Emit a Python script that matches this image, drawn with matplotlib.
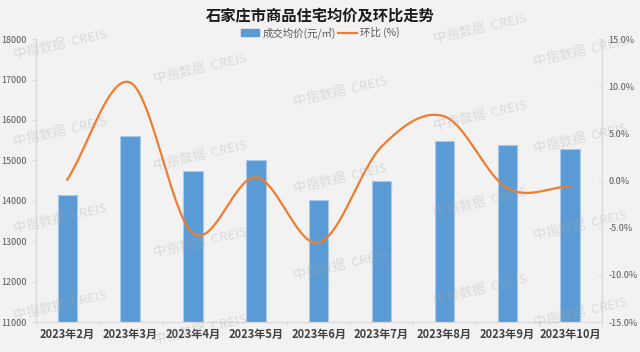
import numpy as np
import matplotlib.pyplot as plt
from matplotlib.patches import Patch
from matplotlib.lines import Line2D
from matplotlib.ticker import FuncFormatter

plt.rcParams['font.family'] = ['Noto Sans CJK SC', 'DejaVu Sans']

months = ['2023年2月', '2023年3月', '2023年4月', '2023年5月', '2023年6月',
          '2023年7月', '2023年8月', '2023年9月', '2023年10月']
price = [14150, 15600, 14740, 15010, 14015, 14500, 15480, 15385, 15285]
mom = [0.1, 10.4, -5.6, 0.35, -6.6, 3.6, 6.8, -0.8, -0.6]

bg = '#f2f2f2'
fig = plt.figure(figsize=(6.4, 3.52), dpi=100, facecolor=bg)
ax = fig.add_axes([0.056, 0.085, 0.884, 0.804])
ax.set_facecolor(bg)
ax2 = ax.twinx()

x = np.arange(len(months))
ax.bar(x, price, width=0.31, color='#5b9bd5', edgecolor='#a9cbeb', linewidth=0.8, zorder=2)
ax.set_ylim(11000, 18000)
ax.set_xlim(-0.5, len(months) - 0.5)
ax.set_yticks(range(11000, 18001, 1000))
ax.set_xticks(x)
ax.set_xticklabels(months, fontsize=8, fontweight='bold', color='#404040')
ax.set_xticks(np.arange(-0.5, len(months), 1), minor=True)

# smoothed line (catmull-rom through the data points)
p = np.array(mom, dtype=float)
pts = np.concatenate([[2 * p[0] - p[1]], p, [2 * p[-1] - p[-2]]])
xs, ys = [], []
for i in range(len(p) - 1):
    t = np.linspace(0, 1, 30)
    p0, p1, p2, p3 = pts[i], pts[i + 1], pts[i + 2], pts[i + 3]
    yy = 0.5 * (2 * p1 + (-p0 + p2) * t + (2 * p0 - 5 * p1 + 4 * p2 - p3) * t ** 2
                + (-p0 + 3 * p1 - 3 * p2 + p3) * t ** 3)
    xs.extend(i + t)
    ys.extend(yy)
ax2.plot(xs, ys, color='#ed7d31', lw=1.6, zorder=3)
ax2.set_ylim(-15, 15)
ax2.set_yticks(range(-15, 16, 5))
ax2.yaxis.set_major_formatter(FuncFormatter(lambda v, _: f'{v:.1f}%'))

for a in (ax, ax2):
    for s in a.spines.values():
        s.set_color('#d9d9d9')
    a.spines['top'].set_visible(False)
    a.tick_params(axis='y', labelsize=6.5, labelcolor='#595959', color='#d9d9d9', length=3)
ax.tick_params(axis='x', which='major', length=0, pad=4)
ax.tick_params(axis='x', which='minor', length=3, color='#d9d9d9')
ax2.tick_params(axis='y', direction='in', pad=5)

fig.text(0.5, 0.957, '石家庄市商品住宅均价及环比走势', ha='center', va='center',
         fontsize=11, fontweight='bold', color='#1a1a1a')
handles = [Patch(color='#5b9bd5'), Line2D([0], [0], color='#ed7d31', lw=1.6)]
fig.legend(handles, ['成交均价(元/㎡)', '环比 (%)'], loc='center', bbox_to_anchor=(0.5, 0.906),
           ncol=2, frameon=False, fontsize=7.5, labelcolor='#595959', handlelength=1.8,
           handleheight=0.6, handletextpad=0.3, columnspacing=0.2)

# watermark
for i in range(5):
    for j in range(-1, 5):
        cx = min(60 + 140 * i, 580)
        cy = 45 + 23.5 * i + 87 * j
        if 15 < cy < 338:
            fig.text(cx / 640, 1 - cy / 352, '中指数据  CREIS', ha='center', va='center',
                     fontsize=9.5, color='#a8a8a8', alpha=0.32, rotation=13, zorder=10)

fig.savefig('out.png', dpi=100, facecolor=bg)
